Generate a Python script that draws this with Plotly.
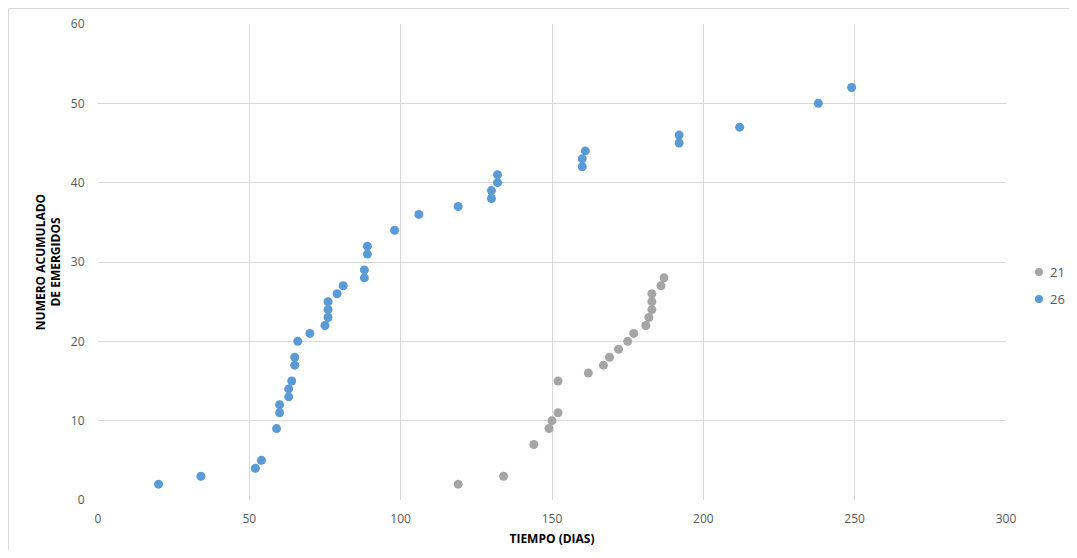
import plotly.graph_objects as go

# Series "26" (blue)
x26 = [20, 34, 52, 54, 59, 60, 60, 63, 63, 64, 65, 65, 66, 70, 75, 76, 76, 76, 79, 81,
       88, 88, 89, 89, 98, 106, 119, 130, 130, 132, 132, 160, 160, 161, 192, 192, 212, 238, 249]
y26 = [2, 3, 4, 5, 9, 11, 12, 13, 14, 15, 17, 18, 20, 21, 22, 23, 24, 25, 26, 27,
       28, 29, 31, 32, 34, 36, 37, 38, 39, 40, 41, 42, 43, 44, 45, 46, 47, 50, 52]

# Series "21" (gray)
x21 = [119, 134, 144, 149, 150, 152, 152, 162, 167, 169, 172, 175, 177, 181, 182, 183, 183, 183, 186, 187]
y21 = [2, 3, 7, 9, 10, 11, 15, 16, 17, 18, 19, 20, 21, 22, 23, 24, 25, 26, 27, 28]

series_names = ["21", "26"]
series_colors = ["#a5a5a5", "#5b9bd5"]

x_ticks = [0, 50, 100, 150, 200, 250, 300]
y_ticks = [0, 10, 20, 30, 40, 50, 60]

FONT = "Open Sans"

fig = go.Figure()
fig.add_trace(go.Scatter(x=x21, y=y21, mode="markers", name=series_names[0],
                         marker=dict(color=series_colors[0], size=9)))
fig.add_trace(go.Scatter(x=x26, y=y26, mode="markers", name=series_names[1],
                         marker=dict(color=series_colors[1], size=9)))

# custom legend (Excel-style: small marker, short gap)
legend_y = [0.479, 0.4223]
shapes = [
    dict(type="line", xref="paper", yref="paper", x0=-0.0986, x1=1.1, y0=1.0326, y1=1.0326,
         line=dict(color="#d9d9d9", width=1)),
    dict(type="line", xref="paper", yref="paper", x0=-0.0986, x1=-0.0986, y0=1.0326, y1=-0.125,
         line=dict(color="#d9d9d9", width=1)),
]
annotations = []
for name, col, ly in zip(series_names, series_colors, legend_y):
    shapes.append(dict(type="circle", xref="paper", yref="paper",
                       xsizemode="pixel", ysizemode="pixel",
                       xanchor=1.0363, yanchor=ly, x0=-4, x1=4, y0=-4, y1=4,
                       fillcolor=col, line=dict(width=0)))
    annotations.append(dict(text=name, xref="paper", yref="paper", x=1.0463, y=ly,
                            xanchor="left", yanchor="middle", showarrow=False,
                            font=dict(size=13, color="#595959")))

fig.update_layout(
    width=1061, height=542,
    margin=dict(l=90, r=63, t=16, b=50, autoexpand=False),
    paper_bgcolor="white", plot_bgcolor="white",
    font=dict(family=FONT, size=13, color="#595959"),
    showlegend=False,
    xaxis=dict(range=[0, 300], tickvals=x_ticks, showgrid=True, gridcolor="#d9d9d9",
               gridwidth=1, zeroline=False, showline=False,
               tickfont=dict(size=12, color="#595959"),
               ticks="outside", ticklen=8, tickcolor="rgba(0,0,0,0)",
               title=dict(text="<b>TIEMPO (DIAS)</b>", font=dict(size=12, color="black"),
                          standoff=8)),
    yaxis=dict(range=[0, 60], tickvals=y_ticks, showgrid=True, gridcolor="#d9d9d9",
               gridwidth=1, zeroline=False, showline=False,
               tickfont=dict(size=12, color="#595959"),
               ticks="outside", ticklen=10, tickcolor="rgba(0,0,0,0)",
               title=dict(text="<b>NUMERO ACUMULADO<br>DE EMERGIDOS</b>",
                          font=dict(size=12, color="black"), standoff=7)),
    shapes=shapes,
    annotations=annotations,
)

fig.write_html("out.html")
